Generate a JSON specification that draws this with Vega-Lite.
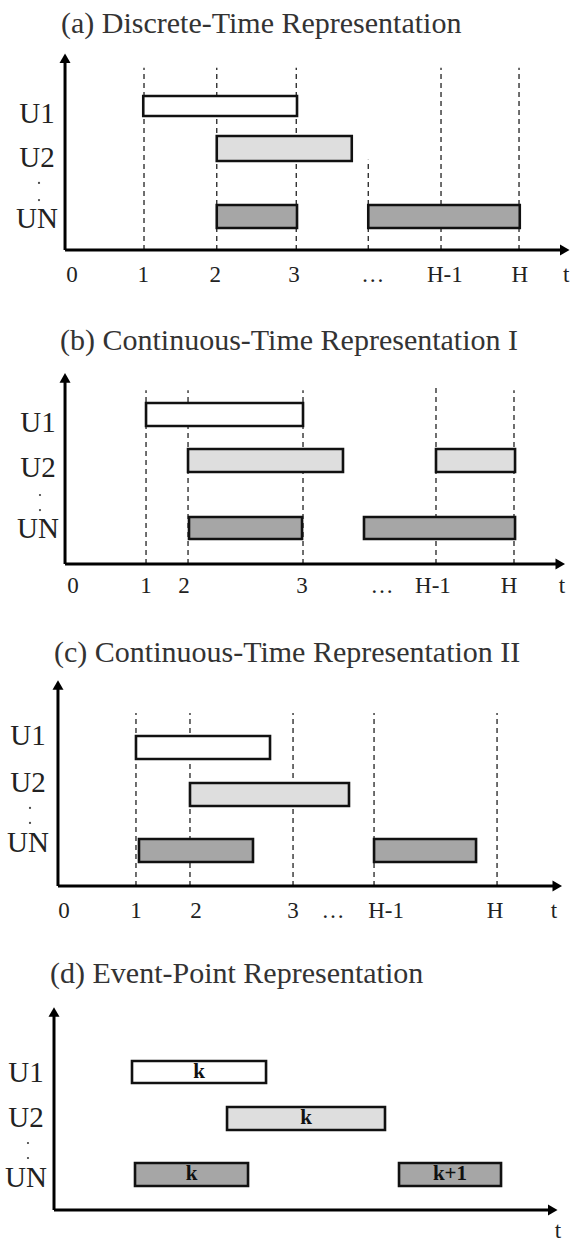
{
"$schema":"https://vega.github.io/schema/vega-lite/v6.json",
"background":"white","padding":0,"spacing":0,"bounds":"flush",
"config":{"view":{"stroke":null},"text":{"font":"Liberation Serif"}},
"vconcat":[
{"width":574,"height":310,
 "encoding":{"x":{"field":"t","type":"quantitative","scale":{"domain":[-0.92,6.733],"nice":false,"zero":false},"axis":null},
  "y":{"field":"y","type":"quantitative","scale":{"domain":[-1.364,5.682],"nice":false,"zero":false},"axis":null}},
 "layer":[
  {"data":{"values":[{"t":1,"y":0,"y2":4.14},{"t":1.97,"y":0,"y2":4.14},{"t":3.03,"y":0,"y2":4.14},{"t":3.99,"y":0,"y2":2.05},{"t":4.96,"y":0,"y2":4.14},{"t":6.0,"y":0,"y2":4.14}]},
   "mark":{"type":"rule","color":"#222","strokeWidth":1.3,"strokeDash":[5,4]},"encoding":{"y2":{"field":"y2"}}},
  {"data":{"values":[{"user":"U1","t":0.99,"t2":3.04,"y":3.5,"y2":3.045},{"user":"U2","t":1.97,"t2":3.77,"y":2.591,"y2":2.023},{"user":"UN","t":1.97,"t2":3.04,"y":1.023,"y2":0.5},{"user":"UN","t":3.99,"t2":6.01,"y":1.023,"y2":0.5}]},
   "mark":{"type":"rect","stroke":"#111","strokeWidth":2.6},
   "encoding":{"x2":{"field":"t2"},"y2":{"field":"y2"},"fill":{"field":"user","type":"nominal","scale":{"domain":["U1","U2","UN"],"range":["#ffffff","#dedede","#a6a6a6"]},"legend":null}}},
  {"data":{"values":[{"t":-0.053,"t2":-0.053,"y":0,"y2":4.36},{"t":-0.053,"t2":6.61,"y":0,"y2":0}]},
   "mark":{"type":"rule","color":"#000","strokeWidth":3},"encoding":{"x2":{"field":"t2"},"y2":{"field":"y2"}}},
  {"data":{"values":[{"t":-0.053,"y":4.36,"dir":"up"},{"t":6.61,"y":0,"dir":"right"}]},
   "mark":{"type":"point","filled":true,"size":121,"color":"#000","opacity":1},
   "encoding":{"shape":{"field":"dir","type":"nominal","scale":{"domain":["up","right"],"range":["triangle-up","triangle-right"]},"legend":null}}},
  {"data":{"values":[{"label":"U1","t":-0.427,"y":2.886},{"label":"U2","t":-0.427,"y":1.886},{"label":"UN","t":-0.427,"y":0.5}]},
   "mark":{"type":"text","fontSize":29,"align":"center","baseline":"alphabetic","color":"#222"},"encoding":{"text":{"field":"label"}}},
  {"data":{"values":[{"t":-0.4,"y":1.523},{"t":-0.4,"y":1.136}]},
   "mark":{"type":"point","filled":true,"size":5,"color":"#444","opacity":1,"shape":"circle"}},
  {"data":{"values":[{"label":"0","t":0.04,"y":-0.727},{"label":"1","t":0.99,"y":-0.727},{"label":"2","t":1.95,"y":-0.727},{"label":"3","t":3.0,"y":-0.727},{"label":"…","t":4.05,"y":-0.727},{"label":"H-1","t":5.01,"y":-0.727},{"label":"H","t":6.01,"y":-0.727},{"label":"t","t":6.63,"y":-0.727}]},
   "mark":{"type":"text","fontSize":23,"align":"center","baseline":"alphabetic","color":"#222"},"encoding":{"text":{"field":"label"}}},
  {"data":{"values":[{"label":"(a) Discrete-Time Representation","t":-0.107,"y":4.932}]},
   "mark":{"type":"text","fontSize":30,"align":"left","baseline":"alphabetic","color":"#333"},"encoding":{"text":{"field":"label"}}}
 ]},
{"width":574,"height":310,
 "encoding":{"x":{"field":"t","type":"quantitative","scale":{"domain":[-0.92,6.733],"nice":false,"zero":false},"axis":null},
  "y":{"field":"y","type":"quantitative","scale":{"domain":[-1.273,5.773],"nice":false,"zero":false},"axis":null}},
 "layer":[
  {"data":{"values":[{"t":1.027,"y":0,"y2":3.95},{"t":1.587,"y":0,"y2":3.95},{"t":3.12,"y":0,"y2":3.95},{"t":4.893,"y":0,"y2":4.02},{"t":5.933,"y":0,"y2":3.95}]},
   "mark":{"type":"rule","color":"#222","strokeWidth":1.3,"strokeDash":[5,4]},"encoding":{"y2":{"field":"y2"}}},
  {"data":{"values":[{"user":"U1","t":1.027,"t2":3.12,"y":3.659,"y2":3.136},{"user":"U2","t":1.587,"t2":3.653,"y":2.614,"y2":2.091},{"user":"U2","t":4.893,"t2":5.947,"y":2.614,"y2":2.091},{"user":"UN","t":1.6,"t2":3.107,"y":1.068,"y2":0.568},{"user":"UN","t":3.933,"t2":5.947,"y":1.068,"y2":0.568}]},
   "mark":{"type":"rect","stroke":"#111","strokeWidth":2.6},
   "encoding":{"x2":{"field":"t2"},"y2":{"field":"y2"},"fill":{"field":"user","type":"nominal","scale":{"domain":["U1","U2","UN"],"range":["#ffffff","#dedede","#a6a6a6"]},"legend":null}}},
  {"data":{"values":[{"t":-0.053,"t2":-0.053,"y":0,"y2":4.23},{"t":-0.053,"t2":6.55,"y":0,"y2":0}]},
   "mark":{"type":"rule","color":"#000","strokeWidth":3},"encoding":{"x2":{"field":"t2"},"y2":{"field":"y2"}}},
  {"data":{"values":[{"t":-0.053,"y":4.23,"dir":"up"},{"t":6.55,"y":0,"dir":"right"}]},
   "mark":{"type":"point","filled":true,"size":121,"color":"#000","opacity":1},
   "encoding":{"shape":{"field":"dir","type":"nominal","scale":{"domain":["up","right"],"range":["triangle-up","triangle-right"]},"legend":null}}},
  {"data":{"values":[{"label":"U1","t":-0.413,"y":3.0},{"label":"U2","t":-0.413,"y":1.977},{"label":"UN","t":-0.413,"y":0.591}]},
   "mark":{"type":"text","fontSize":29,"align":"center","baseline":"alphabetic","color":"#222"},"encoding":{"text":{"field":"label"}}},
  {"data":{"values":[{"t":-0.387,"y":1.568},{"t":-0.387,"y":1.227}]},
   "mark":{"type":"point","filled":true,"size":5,"color":"#444","opacity":1,"shape":"circle"}},
  {"data":{"values":[{"label":"0","t":0.053,"y":-0.659},{"label":"1","t":1.027,"y":-0.659},{"label":"2","t":1.533,"y":-0.659},{"label":"3","t":3.107,"y":-0.659},{"label":"…","t":4.173,"y":-0.659},{"label":"H-1","t":4.853,"y":-0.659},{"label":"H","t":5.867,"y":-0.659},{"label":"t","t":6.573,"y":-0.659}]},
   "mark":{"type":"text","fontSize":23,"align":"center","baseline":"alphabetic","color":"#222"},"encoding":{"text":{"field":"label"}}},
  {"data":{"values":[{"label":"(b) Continuous-Time Representation I","t":-0.12,"y":4.864}]},
   "mark":{"type":"text","fontSize":30,"align":"left","baseline":"alphabetic","color":"#333"},"encoding":{"text":{"field":"label"}}}
 ]},
{"width":574,"height":310,
 "encoding":{"x":{"field":"t","type":"quantitative","scale":{"domain":[-0.92,6.733],"nice":false,"zero":false},"axis":null},
  "y":{"field":"y","type":"quantitative","scale":{"domain":[-1.0,6.045],"nice":false,"zero":false},"axis":null}},
 "layer":[
  {"data":{"values":[{"t":0.893,"y":0,"y2":3.932},{"t":1.613,"y":0,"y2":3.932},{"t":2.987,"y":0,"y2":3.932},{"t":4.067,"y":0,"y2":3.932},{"t":5.707,"y":0,"y2":3.932}]},
   "mark":{"type":"rule","color":"#222","strokeWidth":1.3,"strokeDash":[5,4]},"encoding":{"y2":{"field":"y2"}}},
  {"data":{"values":[{"user":"U1","t":0.893,"t2":2.68,"y":3.409,"y2":2.886},{"user":"U2","t":1.613,"t2":3.733,"y":2.341,"y2":1.818},{"user":"UN","t":0.933,"t2":2.453,"y":1.068,"y2":0.545},{"user":"UN","t":4.067,"t2":5.427,"y":1.068,"y2":0.545}]},
   "mark":{"type":"rect","stroke":"#111","strokeWidth":2.6},
   "encoding":{"x2":{"field":"t2"},"y2":{"field":"y2"},"fill":{"field":"user","type":"nominal","scale":{"domain":["U1","U2","UN"],"range":["#ffffff","#dedede","#a6a6a6"]},"legend":null}}},
  {"data":{"values":[{"t":-0.147,"t2":-0.147,"y":0,"y2":4.57},{"t":-0.147,"t2":6.51,"y":0,"y2":0}]},
   "mark":{"type":"rule","color":"#000","strokeWidth":3},"encoding":{"x2":{"field":"t2"},"y2":{"field":"y2"}}},
  {"data":{"values":[{"t":-0.147,"y":4.57,"dir":"up"},{"t":6.51,"y":0,"dir":"right"}]},
   "mark":{"type":"point","filled":true,"size":121,"color":"#000","opacity":1},
   "encoding":{"shape":{"field":"dir","type":"nominal","scale":{"domain":["up","right"],"range":["triangle-up","triangle-right"]},"legend":null}}},
  {"data":{"values":[{"label":"U1","t":-0.547,"y":3.205},{"label":"U2","t":-0.547,"y":2.136},{"label":"UN","t":-0.547,"y":0.773}]},
   "mark":{"type":"text","fontSize":29,"align":"center","baseline":"alphabetic","color":"#222"},"encoding":{"text":{"field":"label"}}},
  {"data":{"values":[{"t":-0.52,"y":1.773},{"t":-0.52,"y":1.432}]},
   "mark":{"type":"point","filled":true,"size":5,"color":"#444","opacity":1,"shape":"circle"}},
  {"data":{"values":[{"label":"0","t":-0.067,"y":-0.727},{"label":"1","t":0.893,"y":-0.727},{"label":"2","t":1.693,"y":-0.727},{"label":"3","t":2.987,"y":-0.727},{"label":"…","t":3.52,"y":-0.727},{"label":"H-1","t":4.227,"y":-0.727},{"label":"H","t":5.68,"y":-0.727},{"label":"t","t":6.467,"y":-0.727}]},
   "mark":{"type":"text","fontSize":23,"align":"center","baseline":"alphabetic","color":"#222"},"encoding":{"text":{"field":"label"}}},
  {"data":{"values":[{"label":"(c) Continuous-Time Representation II","t":-0.2,"y":5.09}]},
   "mark":{"type":"text","fontSize":30,"align":"left","baseline":"alphabetic","color":"#333"},"encoding":{"text":{"field":"label"}}}
 ]},
{"width":574,"height":313,
 "encoding":{"x":{"field":"t","type":"quantitative","scale":{"domain":[-0.92,6.733],"nice":false,"zero":false},"axis":null},
  "y":{"field":"y","type":"quantitative","scale":{"domain":[-0.75,6.364],"nice":false,"zero":false},"axis":null}},
 "layer":[
  {"data":{"values":[{"user":"U1","t":0.84,"t2":2.627,"y":3.386,"y2":2.886},{"user":"U2","t":2.107,"t2":4.213,"y":2.341,"y2":1.818},{"user":"UN","t":0.88,"t2":2.387,"y":1.068,"y2":0.545},{"user":"UN","t":4.4,"t2":5.76,"y":1.068,"y2":0.545}]},
   "mark":{"type":"rect","stroke":"#111","strokeWidth":2.6},
   "encoding":{"x2":{"field":"t2"},"y2":{"field":"y2"},"fill":{"field":"user","type":"nominal","scale":{"domain":["U1","U2","UN"],"range":["#ffffff","#eeeeee","#a6a6a6"]},"legend":null}}},
  {"data":{"values":[{"label":"k","t":1.733,"y":3.136},{"label":"k","t":3.16,"y":2.08},{"label":"k","t":1.633,"y":0.807},{"label":"k+1","t":5.08,"y":0.807}]},
   "mark":{"type":"text","fontSize":21,"fontWeight":"bold","align":"center","baseline":"middle","color":"#111"},"encoding":{"text":{"field":"label"}}},
  {"data":{"values":[{"t":-0.2,"t2":-0.2,"y":0,"y2":4.5},{"t":-0.2,"t2":6.45,"y":0,"y2":0}]},
   "mark":{"type":"rule","color":"#000","strokeWidth":3},"encoding":{"x2":{"field":"t2"},"y2":{"field":"y2"}}},
  {"data":{"values":[{"t":-0.2,"y":4.5,"dir":"up"},{"t":6.45,"y":0,"dir":"right"}]},
   "mark":{"type":"point","filled":true,"size":121,"color":"#000","opacity":1},
   "encoding":{"shape":{"field":"dir","type":"nominal","scale":{"domain":["up","right"],"range":["triangle-up","triangle-right"]},"legend":null}}},
  {"data":{"values":[{"label":"U1","t":-0.573,"y":2.909},{"label":"U2","t":-0.573,"y":1.886},{"label":"UN","t":-0.573,"y":0.523}]},
   "mark":{"type":"text","fontSize":29,"align":"center","baseline":"alphabetic","color":"#222"},"encoding":{"text":{"field":"label"}}},
  {"data":{"values":[{"t":-0.547,"y":1.523},{"t":-0.547,"y":1.182}]},
   "mark":{"type":"point","filled":true,"size":5,"color":"#444","opacity":1,"shape":"circle"}},
  {"data":{"values":[{"label":"t","t":6.52,"y":-0.64}]},
   "mark":{"type":"text","fontSize":23,"align":"center","baseline":"alphabetic","color":"#222"},"encoding":{"text":{"field":"label"}}},
  {"data":{"values":[{"label":"(d) Event-Point Representation","t":-0.253,"y":5.159}]},
   "mark":{"type":"text","fontSize":30,"align":"left","baseline":"alphabetic","color":"#333"},"encoding":{"text":{"field":"label"}}}
 ]}
]}
